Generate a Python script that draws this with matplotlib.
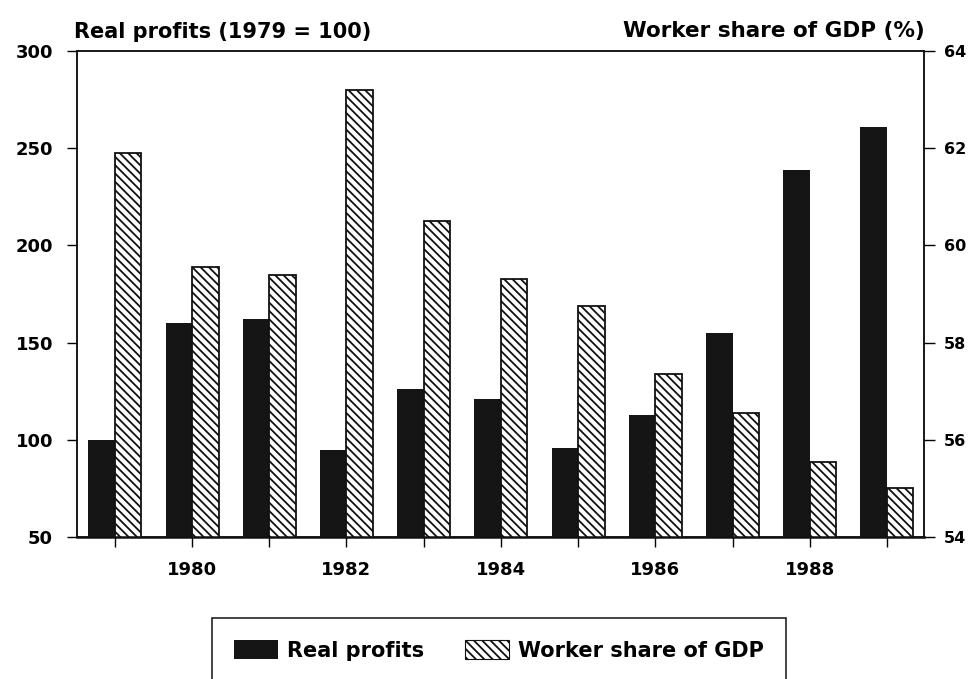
import matplotlib
matplotlib.use("Agg")
import matplotlib.pyplot as plt
import numpy as np
from matplotlib.patches import Patch

years = [1979, 1980, 1981, 1982, 1983, 1984, 1985, 1986, 1987, 1988, 1989]
real_profits = [100, 160, 162, 95, 126, 121, 96, 113, 155, 239, 261]
worker_share = [61.9, 59.55, 59.4, 63.2, 60.5, 59.3, 58.75, 57.35, 56.55, 55.55, 55.0]
x_labels = ["", "1980", "", "1982", "", "1984", "", "1986", "", "1988", ""]
left_ticks = [50, 100, 150, 200, 250, 300]
right_ticks = [54, 56, 58, 60, 62, 64]

plt.rcParams['font.family'] = ['DejaVu Sans']
plt.rcParams['font.weight'] = 'bold'
plt.rcParams['hatch.linewidth'] = 1.3

fig = plt.figure(figsize=(9.76, 6.79), dpi=100)
ax = fig.add_axes([77/976, 1-537/679, (924-77)/976, (537-51)/679])
ax2 = ax.twinx()

x = np.array(years, dtype=float)
w = 0.343
ax.bar(x - w/2, real_profits, width=w, color='#151515', edgecolor='none', zorder=2)
ax2.bar(x + w/2, worker_share, width=w, facecolor='white', edgecolor='#111111',
        hatch='\\\\\\\\', linewidth=1.3, zorder=2)

ax.set_xlim(1978.51, 1989.48)
ax.set_ylim(50, 300)
ax2.set_ylim(54, 64)
ax.set_xticks(years)
ax.set_xticklabels(x_labels)
ax.set_yticks(left_ticks)
ax2.set_yticks(right_ticks)

for a in (ax, ax2):
    for s in a.spines.values():
        s.set_linewidth(1.1)
        s.set_color('#111111')
ax.spines['bottom'].set_linewidth(1.8)

ax.tick_params(axis='x', length=7.2, width=1, pad=10, labelsize=13, direction='out')
ax.tick_params(axis='y', length=7.2, width=1, pad=10, labelsize=13, direction='out')
ax2.tick_params(axis='y', length=8, width=1, pad=6.5, labelsize=11.5, direction='out')

fig.text(74/976, 1-37.5/679, "Real profits (1979 = 100)", fontsize=15,
         fontweight='bold', ha='left', va='baseline')
fig.text(925/976, 1-37.5/679, "Worker share of GDP (%)", fontsize=15.5,
         fontweight='bold', ha='right', va='baseline')

handles = [Patch(facecolor='#151515', edgecolor='none', label='Real profits'),
           Patch(facecolor='white', edgecolor='#111111', hatch='\\\\\\\\',
                 linewidth=0.8, label='Worker share of GDP')]
leg = fig.legend(handles=handles, loc='upper left',
                 bbox_to_anchor=(212/976, 1-618/679), ncol=2, fontsize=15,
                 frameon=True, fancybox=False, edgecolor='#111111', framealpha=1,
                 handlelength=2.1, handleheight=1.05, handletextpad=0.43,
                 columnspacing=2.0, borderpad=1.05, borderaxespad=0)
leg.get_frame().set_linewidth(1.1)

fig.savefig("out.png", dpi=100)
